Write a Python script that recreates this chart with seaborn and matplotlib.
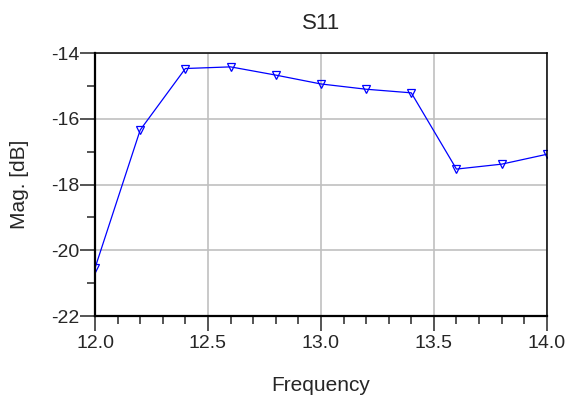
import numpy as np
import pandas as pd
import matplotlib
matplotlib.use("Agg")
import matplotlib.pyplot as plt
from matplotlib.ticker import MultipleLocator
import seaborn as sns

# dados
frequencia = [12.0, 12.2, 12.4, 12.6, 12.8, 13.0, 13.2, 13.4, 13.6, 13.8, 14.0]
mag_db = [-20.54, -16.34, -14.47, -14.42, -14.67, -14.94, -15.10, -15.21,
          -17.53, -17.38, -17.08]

df = pd.DataFrame({"Frequency": frequencia, "Mag": mag_db})

sns.set_style("white")
plt.rcParams['font.family'] = ['Liberation Sans', 'DejaVu Sans']

fig = plt.figure(figsize=(5.69, 3.99), dpi=100)
ax = fig.add_axes([0.167, 0.208, 0.794, 0.659])

sns.lineplot(data=df, x="Frequency", y="Mag", ax=ax, color="#0000ff",
             linewidth=0.9, marker="v", markersize=5.5, markerfacecolor="none",
             markeredgecolor="#0000ff", markeredgewidth=0.9)

ax.set_xlim(12.0, 14.0)
ax.set_ylim(-22, -14)
ax.xaxis.set_major_locator(MultipleLocator(0.5))
ax.xaxis.set_minor_locator(MultipleLocator(0.1))
ax.yaxis.set_major_locator(MultipleLocator(2))
ax.yaxis.set_minor_locator(MultipleLocator(1))
ax.set_xticklabels([f"{v:.1f}" for v in ax.get_xticks()])
ax.set_yticklabels([f"{int(v)}" for v in ax.get_yticks()])

ax.grid(True, which="major", color="#c0c0c0", linewidth=1.2)
ax.set_axisbelow(True)

for lado in ["left", "bottom"]:
    ax.spines[lado].set_linewidth(1.6)
    ax.spines[lado].set_color("black")
for lado in ["top", "right"]:
    ax.spines[lado].set_linewidth(1.1)
    ax.spines[lado].set_color("black")

ax.tick_params(axis="both", which="major", direction="out", length=10.5,
               width=1.1, labelsize=14, bottom=True, left=True)
ax.tick_params(axis="both", which="minor", direction="out", length=5.8,
               width=1.1, bottom=True, left=True)
ax.tick_params(axis="x", which="major", pad=3.5)
ax.tick_params(axis="y", which="major", pad=0.5)

ax.set_title("S11", fontsize=16, pad=17)
ax.set_xlabel("Frequency", fontsize=15, labelpad=17)
ax.set_ylabel("Mag. [dB]", fontsize=15, labelpad=16)

plt.savefig("out.png", dpi=100)
plt.close()
